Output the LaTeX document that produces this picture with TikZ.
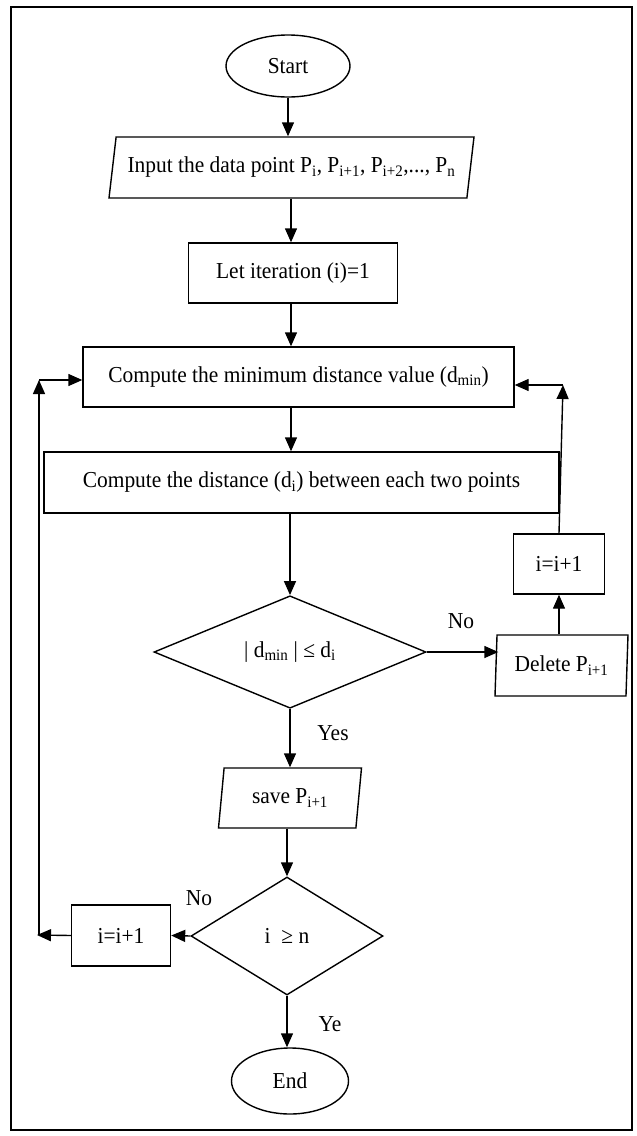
\documentclass[tikz,border=0pt]{standalone}
\usepackage{fontspec}
\setmainfont{Liberation Serif}[FakeStretch=0.94]
\usetikzlibrary{shapes.geometric,arrows.meta}

\begin{document}
\begin{tikzpicture}[x=1pt, y=-1pt,
        font=\fontsize{22.8}{26}\selectfont,
        termbox/.style={draw, ellipse, line width=1.4pt, inner sep=0pt},
        iobox/.style={draw, trapezium, trapezium stretches body, line width=1.4pt, inner sep=0pt},
        procbox/.style={draw, rectangle, line width=1.4pt, inner sep=0pt},
        decbox/.style={draw, diamond, line width=1.4pt, inner sep=0pt},
        flow/.style={line width=1.4pt, -{Triangle[length=14pt, width=12pt]}}]
        \useasboundingbox (0,0) rectangle (637,1136);
        % Frame
        \draw[line width=1.2pt] (11,7) rectangle (632,1130);
        % Start / input
        \node[termbox, minimum width=124pt, minimum height=62pt] (start) at (288,66) {Start};
        \node[iobox, trapezium left angle=71, trapezium right angle=109, minimum width=365pt, minimum height=61pt] (input) at (291.5,167.5)
            {Input the data point P\textsubscript{i}, P\textsubscript{i+1}, P\textsubscript{i+2},..., P\textsubscript{n}};
        \node[procbox, minimum width=209pt, minimum height=60pt] (init) at (293,273) {Let iteration (i)=1};
        % Distances
        \node[procbox, minimum width=431pt, minimum height=60pt] (mindist) at (298.5,377) {Compute the minimum distance value (d\textsubscript{min})};
        \node[procbox, minimum width=515pt, minimum height=61pt] (dist) at (301.5,482.5) {Compute the distance (d\textsubscript{i}) between each two points};
        % First test
        \node[decbox, minimum width=272pt, minimum height=112pt] (cmp) at (290,652) {| d\textsubscript{min} | ≤ d\textsubscript{i}};
        \node[iobox, trapezium left angle=84, trapezium right angle=96, minimum width=133pt, minimum height=61pt] (delete) at (561.5,665.5) {Delete P\textsubscript{i+1}};
        \node[procbox, minimum width=91pt, minimum height=60pt] (incra) at (559,564) {i=i+1};
        \node[iobox, trapezium left angle=73, trapezium right angle=107, minimum width=143pt, minimum height=60pt] (save) at (290,798) {save P\textsubscript{i+1}};
        % Second test
        \node[decbox, minimum width=192pt, minimum height=118pt] (last) at (287,936) {i \ ≥ n};
        \node[procbox, minimum width=99pt, minimum height=61pt] (incrb) at (121,935.5) {i=i+1};
        \node[termbox, minimum width=117pt, minimum height=66pt] (stop) at (290,1081) {End};
        % Labels
        \node (nolabela) at (461,621) {No};
        \node (yeslabela) at (333,733) {Yes};
        \node (nolabelb) at (199,898) {No};
        \node (yeslabelb) at (330,1024) {Ye};
        % Loop corners
        \coordinate (rtop) at (563,385);
        \coordinate (lbot) at (37,935);
        \coordinate (ltop) at (39,380);
        % Connectors
        \draw[flow] (start) -- (start |- input.north);
        \draw[flow] (input.south -| 291,0) -- (291,0 |- init.north);
        \draw[flow] (init.south -| 291,0) -- (291,0 |- mindist.north);
        \draw[flow] (mindist.south -| 291,0) -- (291,0 |- dist.north);
        \draw[flow] (dist.south -| cmp) -- (cmp.north);
        \draw[flow] (cmp.east) -- ([xshift=3pt]cmp.east -| delete.west);
        \draw[flow] (delete.north -| incra) -- (incra);
        \draw[flow] (incra.north) -- (rtop);
        \draw[flow] (rtop) -- (rtop -| mindist.east);
        \draw[flow] (cmp.south) -- (cmp.south |- save.north);
        \draw[flow] (save.south -| last) -- (last.north);
        \draw[flow] (last.west) -- (incrb.east);
        \draw[flow] (incrb.west) -- (lbot);
        \draw[flow] (ltop |- lbot) -- (ltop);
        \draw[flow] (ltop) -- (ltop -| mindist.west);
        \draw[flow] (last.south) -- (last.south |- stop.north);
\end{tikzpicture}
\end{document}
